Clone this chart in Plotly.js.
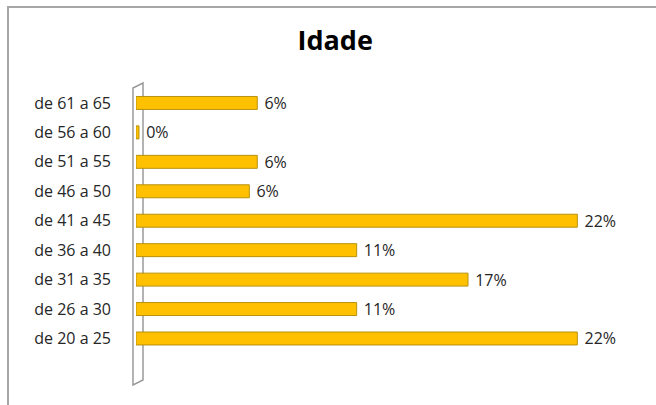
<!DOCTYPE html>
<html>
<head>
<meta charset="utf-8">
<script src="https://cdn.plot.ly/plotly-3.0.1.min.js"></script>
<style>html,body{margin:0;padding:0;background:#fff;}#chart{width:656px;height:405px;}</style>
</head>
<body>
<div id="chart"></div>
<script>
// Data (bottom to top)
const categories = ["de 20 a 25","de 26 a 30","de 31 a 35","de 36 a 40","de 41 a 45","de 46 a 50","de 51 a 55","de 56 a 60","de 61 a 65"];
const shares = [22.2, 11.1, 16.7, 11.1, 22.2, 5.7, 6.1, 0.15, 6.1];

// Plot-area geometry (pixels) used to place decorative frame / wall
const W = 656, H = 405;
const M = {l:136, r:23, t:85, b:20};
const PW = W - M.l - M.r, PH = H - M.t - M.b;
const px = x => (x - M.l) / PW;
const py = y => (H - M.b - y) / PH;

const wallPath = `M ${px(133)} ${py(88)} L ${px(143)} ${py(83)} L ${px(143)} ${py(380)} L ${px(133)} ${py(385)} Z`;
const framePath = `M ${px(8)} ${py(410)} L ${px(8)} ${py(7)} L ${px(660)} ${py(7)}`;

const trace = {
  type: 'bar',
  orientation: 'h',
  y: categories,
  x: shares,
  marker: {color: '#FFC000', line: {color: '#B8920C', width: 1}},
  texttemplate: ' %{x:.0f}%',
  textposition: 'outside',
  constraintext: 'none',
  cliponaxis: false,
  textfont: {family: 'Open Sans, sans-serif', size: 16, color: '#262626'},
  hoverinfo: 'skip'
};

const layout = {
  width: W, height: H,
  margin: M,
  paper_bgcolor: '#ffffff',
  plot_bgcolor: 'rgba(0,0,0,0)',
  showlegend: false,
  bargap: 0.56,
  title: {
    text: '<b>Idade</b>',
    font: {family: 'Open Sans, sans-serif', size: 27, color: '#000'},
    x: 0.511, xanchor: 'center', y: 0.9, yanchor: 'middle', yref: 'container'
  },
  xaxis: {range: [0, 25], visible: false, fixedrange: true},
  yaxis: {
    type: 'category',
    range: [-1.58, 8.61],
    showgrid: false, zeroline: false, showline: false,
    ticks: '', ticklabelstandoff: 24,
    tickfont: {family: 'Open Sans, sans-serif', size: 16, color: '#262626'},
    fixedrange: true
  },
  shapes: [
    {type: 'path', xref: 'paper', yref: 'paper', path: framePath, line: {color: '#a6a6a6', width: 2}, layer: 'below'},
    {type: 'path', xref: 'paper', yref: 'paper', path: wallPath, fillcolor: '#ffffff', line: {color: '#9a9a9a', width: 1.5}, layer: 'below'}
  ]
};

Plotly.newPlot('chart', [trace], layout, {displayModeBar: false, staticPlot: true});
</script>
</body>
</html>
